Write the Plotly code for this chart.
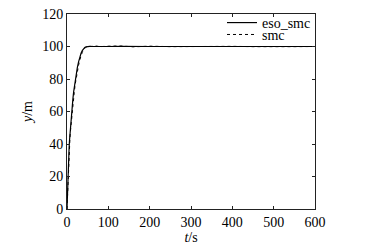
import plotly.graph_objects as go

t = [0, 1, 2, 3, 4, 5, 6, 7, 8, 10, 12, 14, 16, 18, 20, 22, 25, 28, 31, 34, 37, 40, 43, 46, 50, 55, 60, 70, 80, 100, 130, 160, 200, 250, 300, 350, 400, 450, 500, 550, 600]
eso_smc = [0, 10, 19, 26, 32, 37, 42, 46, 50, 56, 62, 67, 72, 76, 80, 83, 87, 90.5, 93.5, 95.8, 97.5, 98.7, 99.4, 99.8, 100.1, 100.1, 100.0, 100.1, 100.0, 100.0, 100.1, 99.9, 100.0, 100.0, 100.0, 100.0, 100.0, 100.0, 100.0, 100.0, 100.0]
smc = [0, 8, 16, 23, 29, 34, 39, 43, 47, 53, 59, 64, 69, 73, 77, 80.5, 85, 88.5, 91.8, 94.5, 96.5, 98.0, 99.0, 99.6, 100.0, 100.2, 100.1, 100.3, 99.9, 100.2, 100.3, 99.8, 100.2, 99.9, 100.1, 99.9, 100.1, 99.9, 100.1, 99.9, 100.0]

font_family = "Liberation Serif"

fig = go.Figure()
fig.add_trace(go.Scatter(x=t, y=eso_smc, mode="lines", name="eso_smc", showlegend=True,
                         line=dict(color="black", width=1.2), legend="legend"))
fig.add_trace(go.Scatter(x=t, y=smc, mode="lines", name="smc", showlegend=True,
                         line=dict(color="black", width=1, dash="dot"), legend="legend2"))

axis_common = dict(showline=True, linecolor="#222", linewidth=1, mirror="ticks",
                   ticks="inside", ticklen=3, tickcolor="#222", showgrid=False,
                   zeroline=False, ticklabeloverflow="allow",
                   tickfont=dict(family=font_family, size=14, color="black"))

fig.update_layout(
    width=360, height=240,
    showlegend=True,
    margin=dict(l=59, r=53, t=6, b=39, autoexpand=False),
    paper_bgcolor="white", plot_bgcolor="white",
    font=dict(family=font_family, size=13, color="black"),
    xaxis=dict(range=[0, 600], tickvals=[0, 100, 200, 300, 400, 500, 600],
               title=dict(text="<i>t</i>/s", standoff=0, font=dict(size=14)), **axis_common),
    yaxis=dict(range=[0, 120], tickvals=[0, 20, 40, 60, 80, 100, 120],
               title=dict(text="<i>y</i>/m", standoff=6, font=dict(size=14)), **axis_common),
    legend=dict(x=0.625, y=1.036, xanchor="left", yanchor="top", bgcolor="rgba(0,0,0,0)",
                font=dict(family=font_family, size=14), borderwidth=0,
                tracegroupgap=0, itemwidth=30),
    legend2=dict(x=0.625, y=0.975, xanchor="left", yanchor="top", bgcolor="rgba(0,0,0,0)",
                 font=dict(family=font_family, size=14), borderwidth=0,
                 tracegroupgap=0, itemwidth=30),
)

fig.write_html("out.html")
